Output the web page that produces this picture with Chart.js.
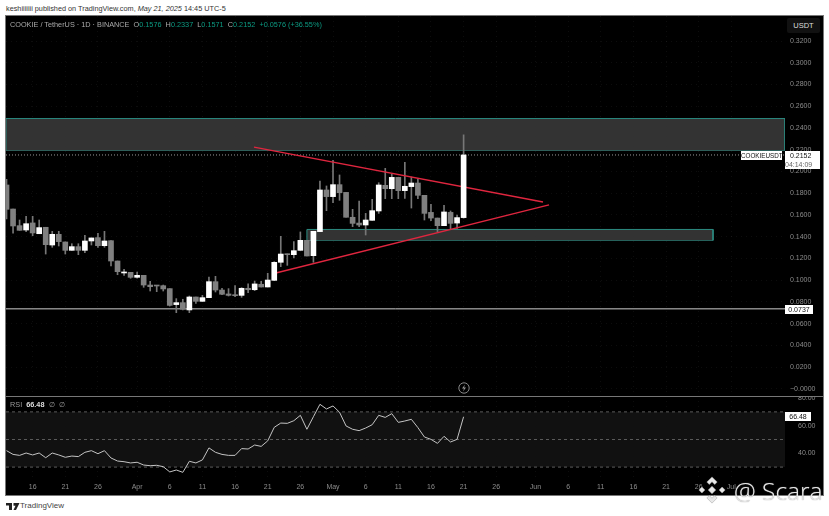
<!DOCTYPE html>
<html>
<head>
<meta charset="utf-8">
<script src="https://cdn.jsdelivr.net/npm/chart.js@4/dist/chart.umd.min.js"></script>
<style>
html, body { margin: 0; background: #fff; }
body { width: 829px; height: 516px; position: relative; overflow: hidden; font-family: "Liberation Sans", sans-serif; }
#panel { position: absolute; left: 6px; top: 16px; width: 817px; height: 479px; background: #000; }
#panel:after { content: ""; position: absolute; left: 0; top: 0; right: 0; bottom: 0; border: 1px solid #777; margin: -1px; pointer-events: none; }
canvas { position: absolute; left: 6px; }
#price { top: 16px; }
#rsi { top: 396px; }
#sep { position: absolute; left: 6px; top: 396px; width: 817px; height: 1px; background: #777; }
.t { position: absolute; white-space: nowrap; }
.box { position: absolute; background: #fff; color: #111; font-size: 7px; line-height: 9px; text-align: center; }
.g { color: #0c9a82; }
</style>
</head>
<body>
<div class="t" style="left:6px;top:4px;font-size:7.3px;color:#333">keshiiiiiii published on TradingView.com, <i>May 21, 2025</i> 14:45 UTC-5</div>
<div id="panel"></div>
<canvas id="price" width="817" height="380"></canvas>
<canvas id="rsi" width="817" height="99"></canvas>
<div id="sep"></div>

<div class="t" style="left:10px;top:20px;font-size:7.3px;color:#aaa">COOKIE / TetherUS · 1D · BINANCE&nbsp;&nbsp;O<span class="g">0.1576</span>&nbsp;&nbsp;H<span class="g">0.2337</span>&nbsp;&nbsp;L<span class="g">0.1571</span>&nbsp;&nbsp;C<span class="g">0.2152</span>&nbsp;&nbsp;<span class="g">+0.0576 (+36.55%)</span></div>
<div class="t" style="left:787px;top:18px;width:33px;height:15px;background:#111;border-radius:2px;color:#ddd;font-size:7.5px;line-height:15px;text-align:center">USDT</div>
<div class="box" style="left:741px;top:151px;width:41px;height:9px;font-size:6.3px">COOKIEUSDT</div>
<div class="box" style="left:785px;top:151px;width:35px;height:18px;text-align:left;text-indent:5px">0.2152<br><span style="color:#666">04:14:09</span></div>
<div class="box" style="left:785px;top:305px;width:28px;height:9px;">0.0737</div>
<div class="box" style="left:785px;top:412px;width:26px;height:9px;">66.48</div>
<div class="t" style="left:10px;top:400px;font-size:7.3px;color:#999">RSI&nbsp;&nbsp;<span style="color:#ddd;font-weight:bold">66.48</span>&nbsp;&nbsp;∅&nbsp;&nbsp;∅</div>

<svg style="position:absolute;left:458px;top:382px" width="12" height="12" viewBox="0 0 12 12"><circle cx="6" cy="6" r="5.2" fill="#000" stroke="#888"/><path d="M7 2.5 4 6.5h2L5 9.5l3-4H6z" fill="#999"/></svg>

<svg style="position:absolute;left:697px;top:475px" width="30" height="30" viewBox="0 0 32 32"><g fill="#e8e8e8" stroke="#aaa" stroke-width=".6"><path d="M16 2l5.500 5.500-2.600 2.600L16 7.200l-2.900 2.900-2.600-2.600z"/><path d="M16 30l5.500-5.500-2.600-2.600L16 24.800l-2.900-2.900-2.600 2.600z"/><path d="M2 16l3.200-3.200 3.200 3.200-3.200 3.200z"/><path d="M23.600 16l3.200-3.200L30 16l-3.200 3.200z"/><path d="M16 12l4 4-4 4-4-4z"/></g></svg>
<div class="t" style="left:734px;top:474px;font-size:24.5px;color:#e6e6e6;text-shadow:0 0 1px #888;font-family:'Open Sans',sans-serif;font-weight:300">@ Scara</div>

<svg style="position:absolute;left:6px;top:503px" width="14" height="7" viewBox="0 0 14 7"><path d="M0 0h6v7H3V2.500H0zM7.500 0h6L10 7H7.500l2-4.200H7.500z" fill="#222"/></svg>
<div class="t" style="left:20px;top:501px;font-size:8px;color:#444">TradingView</div>

<script>
// Data. Index 0 is Mar 12, one candle per day up to May 21
var opens = [.1876,.1655,.1502,.1462,.1527,.1428,.1487,.1324,.1422,.1352,.1275,.1309,.1275,.1361,.1392,.1318,.1364,.1177,.1067,.1073,.1027,.1045,.0956,.0953,.0950,.0923,.0776,.0794,.0727,.0846,.0806,.0840,.0987,.0910,.0874,.0864,.0861,.0926,.0913,.0963,.0938,.0999,.1165,.1241,.1235,.1275,.1367,.1226,.1447,.1830,.1769,.1879,.1808,.1579,.1526,.1508,.1551,.1637,.1873,.1842,.1946,.1824,.1861,.1894,.1781,.1624,.1572,.1502,.1624,.1526,.1576]
var highs = [.1928,.1655,.1554,.1588,.1588,.1554,.1487,.1450,.1450,.1352,.1336,.1336,.1413,.1389,.1432,.1450,.1364,.1177,.1100,.1073,.1076,.1045,.0990,.0953,.0956,.0923,.0831,.0825,.0855,.0846,.0861,.1030,.1036,.0926,.0923,.0950,.0932,.0966,.0993,.0990,.1064,.1171,.1404,.1241,.1355,.1444,.1367,.1450,.1913,.1867,.2103,.1968,.1808,.1652,.1729,.1615,.1744,.1897,.2029,.1977,.1946,.2084,.1949,.1931,.1781,.1698,.1572,.1689,.1637,.1600,.2337]
var lows = [.1563,.1432,.1459,.1447,.1410,.1428,.1241,.1303,.1315,.1241,.1275,.1235,.1254,.1324,.1303,.1303,.1131,.1051,.1045,.1018,.1018,.0935,.0901,.0895,.0901,.0763,.0702,.0727,.0702,.0788,.0806,.0840,.0892,.0868,.0855,.0849,.0843,.0886,.0904,.0938,.0938,.0996,.1125,.1137,.1205,.1275,.1223,.1165,.1447,.1640,.1713,.1735,.1579,.1493,.1493,.1416,.1551,.1615,.1750,.1750,.1750,.1753,.1664,.1750,.1554,.1548,.1447,.1502,.1471,.1477,.1571]
var closes = [.1652,.1499,.1459,.1520,.1435,.1484,.1327,.1422,.1355,.1275,.1309,.1275,.1361,.1389,.1318,.1361,.1177,.1079,.1076,.1027,.1045,.0956,.0941,.0947,.0920,.0769,.0794,.0733,.0846,.0806,.0840,.0987,.0910,.0871,.0861,.0858,.0926,.0913,.0966,.0938,.1002,.1165,.1241,.1235,.1272,.1367,.1223,.1450,.1830,.1769,.1879,.1805,.1579,.1523,.1508,.1554,.1640,.1876,.1842,.1946,.1824,.1864,.1894,.1781,.1615,.1572,.1502,.1628,.1523,.1576,.2152]
var rsiValues = [41.9,39.2,38.5,40.2,38.8,40.2,36.8,40.2,38.8,37.1,38.0,37.6,40.7,41.9,39.7,41.9,36.6,34.4,33.9,33.0,33.5,31.5,31.0,31.3,30.3,26.5,27.9,26.2,34.2,33.0,35.2,43.9,40.7,39.2,38.5,38.5,43.4,43.1,46.0,45.0,49.0,58.8,61.9,61.7,63.6,67.5,57.4,66.5,75.5,72.1,74.3,69.7,59.8,57.4,56.4,58.3,60.7,67.5,66.0,68.7,62.4,63.4,64.6,58.6,51.8,50.1,47.2,52.3,48.2,50.1,66.48]

var timeTickDays = [4,9,14,20,25,30,35,40,45,50,55,60,65,70,75,81,86,91,96,101,106,111]
var timeTickLabels = ["16","21","26","Apr","6","11","16","21","26","May","6","11","16","21","26","Jun","6","11","16","21","26","Jul"]
var priceTicks = [0,.02,.04,.06,.08,.10,.12,.14,.16,.18,.20,.22,.24,.26,.28,.30,.32]
var rsiTicks = [40,60,80]

var zoneHigh = [.2487, .1467]
var zoneLow = [.2193, .1367]
var zoneFrom = [-0.08, 46]
var zoneTo = [119.22, 108.2]

var upperTrendDays = [37.9, 82.16], upperTrendPrices = [.2225, .17195]
var lowerTrendDays = [41.4, 83.08], lowerTrendPrices = [.1069, .1692]
var supportPrice = 0.0737
var lastPrice = 0.2152
var rsiLevels = [70, 50, 30]

var xMin = -0.08, xMax = 119.22
var days = opens.map(function (v, i) { return i })
var white = "#ffffff", grey = "#808080", teal = "#2b8a80", red = "#e0263f"
var font = { family: "Liberation Sans", size: 7 }

function xGrid() {
  return { color: "rgba(255,255,255,0.05)", drawTicks: false, tickLength: 0, offset: false }
}
function setTimeTicks(scale) {
  scale.ticks = timeTickDays.map(function (d) { return { value: d } })
}
function ticksFrom(list) {
  return function (scale) { scale.ticks = list.map(function (v) { return { value: v } }) }
}
// fixed axis width, and no label padding eating into the plot height
function fitRightAxis(s) {
  s.width = 38
  s.paddingTop = 0
  s.paddingBottom = 0
}
function flatLine(y, color, width, dash, order) {
  return {
    type: "line", order: order, borderColor: color, borderWidth: width, borderDash: dash,
    pointRadius: 0, fill: false,
    data: [{ x: xMin, y: y }, { x: xMax, y: y }]
  }
}

var datasets = [
  {
    label: "bodies", order: 1, grouped: false, barThickness: 5, minBarLength: 1,
    backgroundColor: days.map(function (i) { return closes[i] >= opens[i] ? white : grey }),
    data: days.map(function (i) { return { x: i, y: [opens[i], closes[i]] } })
  },
  {
    type: "line", order: 2, borderColor: red, borderWidth: 1.3, pointRadius: 0, fill: false,
    data: upperTrendDays.map(function (d, i) { return { x: d, y: upperTrendPrices[i] } })
  },
  {
    type: "line", order: 2, borderColor: red, borderWidth: 1.3, pointRadius: 0, fill: false,
    data: lowerTrendDays.map(function (d, i) { return { x: d, y: lowerTrendPrices[i] } })
  },
  {
    label: "wicks", order: 3, grouped: false, barThickness: 1,
    backgroundColor: "#777",
    data: days.map(function (i) { return { x: i, y: [lows[i], highs[i]] } })
  },
  flatLine(supportPrice, "#cfcfcf", 1, [], 4),
  flatLine(lastPrice, "#999", 1, [1, 2], 4)
]

zoneHigh.forEach(function (h, z) {
  // rectangle: left, top and right edges plus the fill, bottom edge on its own
  datasets.push({
    type: "line", order: 5, borderColor: teal, borderWidth: 1, pointRadius: 0,
    backgroundColor: "#333333", fill: { value: zoneLow[z] },
    data: [{ x: zoneFrom[z], y: zoneLow[z] }, { x: zoneFrom[z], y: h }, { x: zoneTo[z], y: h }, { x: zoneTo[z], y: zoneLow[z] }]
  })
  datasets.push({
    type: "line", order: 5, borderColor: teal, borderWidth: 1, pointRadius: 0, fill: false,
    data: [{ x: zoneFrom[z], y: zoneLow[z] }, { x: zoneTo[z], y: zoneLow[z] }]
  })
})

new Chart(document.getElementById("price"), {
  type: "bar",
  data: { datasets: datasets },
  options: {
    responsive: false, animation: false,
    layout: { padding: 0, autoPadding: false },
    plugins: { legend: { display: false }, tooltip: { enabled: false } },
    scales: {
      x: {
        type: "linear", min: xMin, max: xMax, offset: false,
        afterBuildTicks: setTimeTicks,
        afterFit: function (s) { s.height = 0 },
        ticks: { display: false },
        grid: xGrid(), border: { display: false, dash: [1, 4] }
      },
      y: {
        position: "right", min: -0.00644, max: 0.34299, bounds: "data",
        afterBuildTicks: ticksFrom(priceTicks),
        afterFit: fitRightAxis,
        ticks: {
          color: "#8c8c8c", font: font, padding: 5, autoSkip: false,
          callback: function (v) { return v === 0 ? "\u22120.0000" : v.toFixed(4) }
        },
        grid: { color: "rgba(255,255,255,0.05)", drawTicks: false, tickLength: 0 },
        border: { display: false, dash: [1, 4] }
      }
    }
  }
})

var rsiSets = [
  {
    order: 1, borderColor: "#c4c4c4", borderWidth: 1, pointRadius: 0, fill: false, tension: 0,
    data: days.map(function (i) { return { x: i, y: rsiValues[i] } })
  }
]
rsiLevels.forEach(function (l) { rsiSets.push(flatLine(l, "#5c5c5c", 1, [3, 3], 2)) })
rsiSets.push({
  order: 3, borderWidth: 0, pointRadius: 0, backgroundColor: "#111111",
  fill: { value: rsiLevels[2] },
  data: [{ x: xMin, y: rsiLevels[0] }, { x: xMax, y: rsiLevels[0] }]
})

new Chart(document.getElementById("rsi"), {
  type: "line",
  data: { datasets: rsiSets },
  options: {
    responsive: false, animation: false,
    layout: { padding: 0, autoPadding: false },
    plugins: { legend: { display: false }, tooltip: { enabled: false } },
    scales: {
      x: {
        type: "linear", min: xMin, max: xMax,
        afterBuildTicks: setTimeTicks,
        afterFit: function (s) { s.height = 17 },
        ticks: {
          color: "#8c8c8c", font: font, padding: 5, maxRotation: 0, autoSkip: false,
          callback: function (v) { return timeTickLabels[timeTickDays.indexOf(v)] }
        },
        grid: xGrid(), border: { display: false, dash: [1, 4] }
      },
      y: {
        position: "right", min: 22.1, max: 81.5, bounds: "data",
        afterBuildTicks: ticksFrom(rsiTicks),
        afterFit: fitRightAxis,
        ticks: {
          color: "#8c8c8c", font: font, padding: 5, autoSkip: false,
          callback: function (v) { return v.toFixed(2) }
        },
        grid: { display: false },
        border: { display: false }
      }
    }
  }
})
</script>
</body>
</html>
